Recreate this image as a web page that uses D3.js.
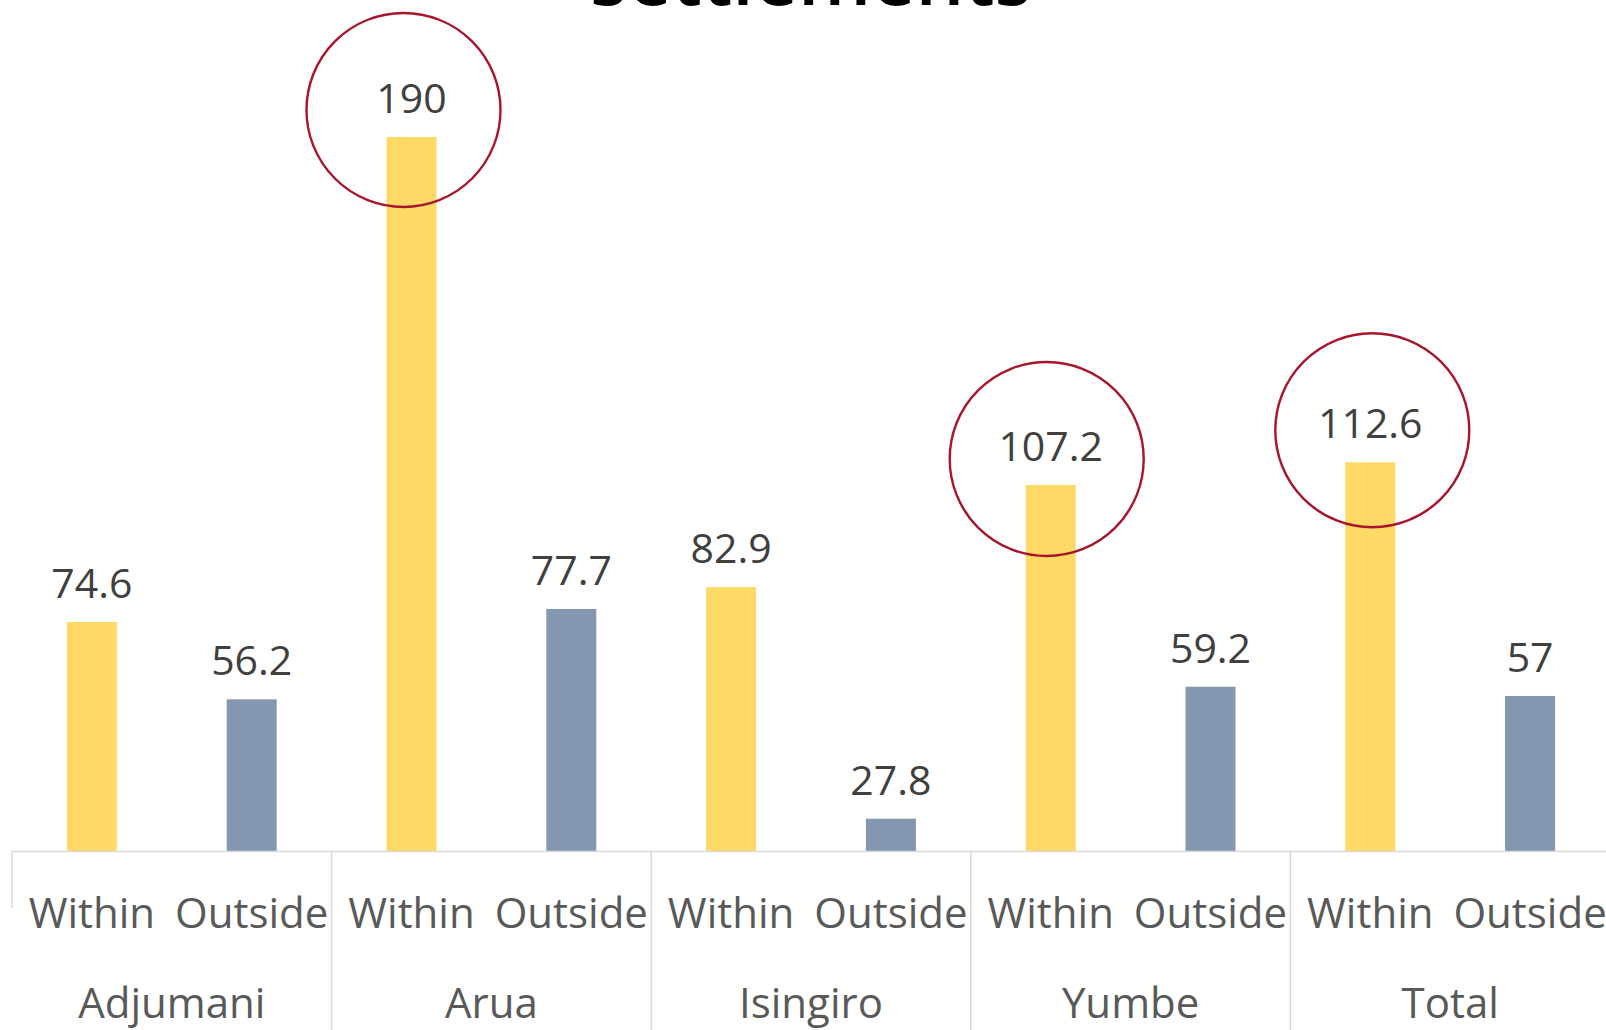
<!DOCTYPE html>
<html>
<head>
<meta charset="utf-8">
<script src="https://cdn.jsdelivr.net/npm/d3@7"></script>
<style>
  html, body { margin: 0; padding: 0; background: #ffffff; }
  svg { display: block; }
  text { font-family: "Open Sans", "Noto Sans", sans-serif; }
</style>
</head>
<body>
<svg id="chart" width="1606" height="1030"></svg>
<script>
// Districts (outer categories) and settlement location (inner categories)
const districts = ["Adjumani", "Arua", "Isingiro", "Yumbe", "Total"];
const locations = ["Within", "Outside"];

// Values per district
const withinValues  = [74.6, 190, 82.9, 107.2, 112.6];
const outsideValues = [56.2, 77.7, 27.8, 59.2, 57];

// Within-settlement bars ringed for emphasis
const ringed = ["Arua", "Yumbe", "Total"];

const titleText = "settlements";

// ---- drawing ----
const svg = d3.select("#chart");
const W = 1606, H = 1030;

const seriesColor = { Within: "#FFD966", Outside: "#8497B0" };

const rows = districts.map((d, i) => ({
  district: d,
  values: [
    { district: d, loc: "Within",  value: withinValues[i] },
    { district: d, loc: "Outside", value: outsideValues[i] }
  ]
}));

const axisY = 851.5;
const groupWidth = 319.6;
const x0 = d3.scaleBand()
  .domain(districts)
  .range([12, 12 + groupWidth * districts.length])
  .paddingInner(0).paddingOuter(0);
const x1 = d3.scaleBand()
  .domain(locations)
  .range([0, x0.bandwidth()]);
const barWidth = 50;

const y = d3.scaleLinear().domain([20, 200]).range([axisY, 94.9]);

// Title (only its lower edge falls inside the frame)
svg.append("text")
  .attr("x", 811)
  .attr("y", 5)
  .attr("text-anchor", "middle")
  .attr("font-size", 80)
  .attr("font-weight", 600)
  .attr("fill", "#000000")
  .attr("textLength", 442)
  .attr("lengthAdjust", "spacingAndGlyphs")
  .text(titleText);

// Bars
const groups = svg.append("g").selectAll("g")
  .data(rows)
  .join("g")
  .attr("transform", d => `translate(${x0(d.district)},0)`);

groups.selectAll("rect")
  .data(d => d.values)
  .join("rect")
  .attr("x", d => x1(d.loc) + x1.bandwidth() / 2 - barWidth / 2)
  .attr("width", barWidth)
  .attr("y", d => y(d.value))
  .attr("height", d => axisY - y(d.value))
  .attr("fill", d => seriesColor[d.loc]);

// Value labels
groups.selectAll("text.value")
  .data(d => d.values)
  .join("text")
  .attr("class", "value")
  .attr("x", d => x1(d.loc) + x1.bandwidth() / 2)
  .attr("y", d => y(d.value) - 24)
  .attr("text-anchor", "middle")
  .attr("font-size", 41)
  .attr("fill", "#404040")
  .text(d => d3.format("~g")(d.value));

// Red rings around highlighted values
const ringNudge = { Arua: [-8, -27], Yumbe: [-4, -26], Total: [2, -32] };
svg.append("g").selectAll("circle")
  .data(ringed)
  .join("circle")
  .attr("cx", d => x0(d) + x1("Within") + x1.bandwidth() / 2 + ringNudge[d][0])
  .attr("cy", d => y(withinValues[districts.indexOf(d)]) + ringNudge[d][1])
  .attr("r", 97)
  .attr("fill", "none")
  .attr("stroke", "#A8162E")
  .attr("stroke-width", 2.4);

// Category axis
const axis = svg.append("g");
axis.append("line")
  .attr("x1", x0.range()[0]).attr("x2", W)
  .attr("y1", axisY).attr("y2", axisY)
  .attr("stroke", "#D9D9D9").attr("stroke-width", 1.5);

// Group separators: left edge is short, inner boundaries run to the bottom
axis.append("line")
  .attr("x1", x0.range()[0]).attr("x2", x0.range()[0])
  .attr("y1", axisY).attr("y2", 908)
  .attr("stroke", "#D9D9D9").attr("stroke-width", 1.5);
axis.selectAll("line.sep")
  .data(districts.slice(1))
  .join("line")
  .attr("class", "sep")
  .attr("x1", d => x0(d)).attr("x2", d => x0(d))
  .attr("y1", axisY).attr("y2", H)
  .attr("stroke", "#D9D9D9").attr("stroke-width", 1.5);

// Inner labels (Within / Outside)
axis.selectAll("g.inner")
  .data(districts)
  .join("g")
  .attr("class", "inner")
  .attr("transform", d => `translate(${x0(d)},0)`)
  .selectAll("text")
  .data(locations)
  .join("text")
  .attr("x", d => x1(d) + x1.bandwidth() / 2)
  .attr("y", 928)
  .attr("text-anchor", "middle")
  .attr("font-size", 42)
  .attr("fill", "#595959")
  .text(d => d);

// Outer labels (districts)
axis.selectAll("text.outer")
  .data(districts)
  .join("text")
  .attr("class", "outer")
  .attr("x", d => x0(d) + x0.bandwidth() / 2)
  .attr("y", 1018)
  .attr("text-anchor", "middle")
  .attr("font-size", 42)
  .attr("fill", "#595959")
  .text(d => d);
</script>
</body>
</html>
